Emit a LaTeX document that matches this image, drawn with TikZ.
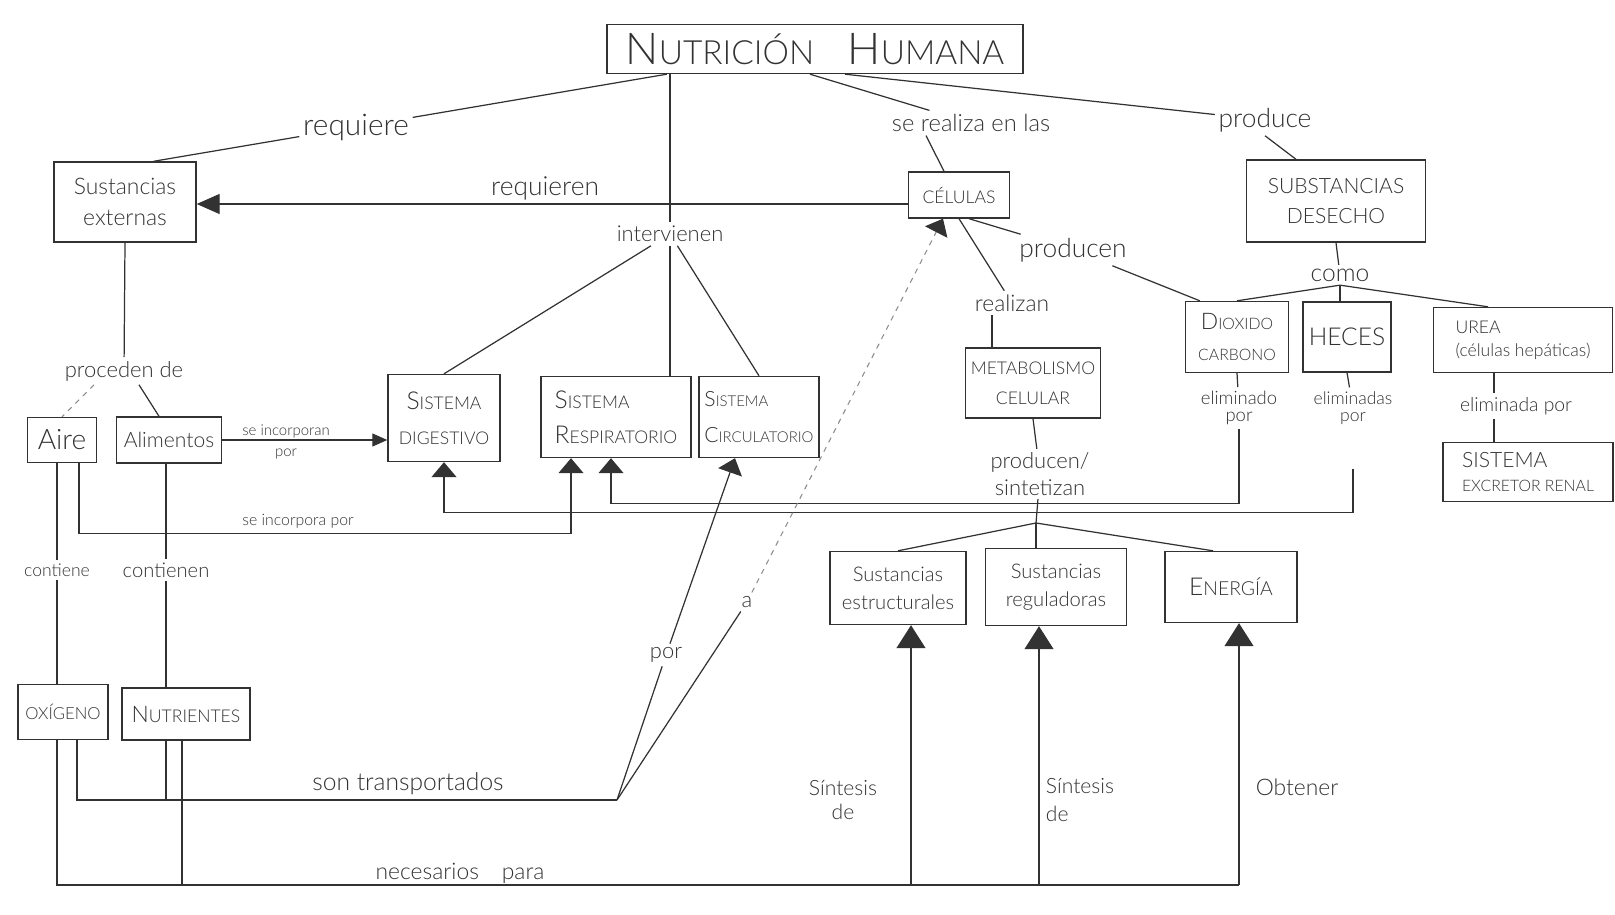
\documentclass[tikz,border=0pt]{standalone}
\usepackage{fontspec}
\setmainfont{Lato}[UprightFont=* Light]
\usepackage{tikz}
\usepackage{xcolor}
\usetikzlibrary{arrows.meta, positioning, calc}
\definecolor{cInk}{RGB}{50,50,50}
\definecolor{cFaint}{RGB}{140,140,140}
\newcommand{\fs}[2]{\fontsize{#1}{#2}\selectfont}
\newcommand{\ini}[2]{{\fontsize{#1}{#1}\selectfont #2}}
\tikzset{
	concept/.style={rectangle, draw=cInk, line width=0.8pt, align=center, inner sep=2pt, text=cInk},
	link/.style   ={align=center, inner sep=2pt, text=cInk},
	conn/.style   ={draw=cInk, line width=0.7pt},
	faint/.style  ={draw=cFaint, line width=0.6pt, dashed},
	% arrow tips as drawn by hand
	tipS/.style={-{Triangle[width=0.5cm, length=0.3cm, color=cInk]}},
	tipL/.style={-{Triangle[width=0.58cm, length=0.46cm]}},
	tipR/.style={-{Triangle[width=0.4cm, length=0.46cm]}},
	tipA/.style={-{Triangle[width=0.26cm, length=0.3cm]}},
}
\begin{document}
\begin{tikzpicture}[x=0.02cm, y=-0.02cm]
	\useasboundingbox (0,0) rectangle (1615,915);
	% concepts
	\node[concept, minimum width=8.32cm, minimum height=0.98cm, font=\fs{19}{20}] (titulo) at (815,49) {\ini{25}{N}UTRICIÓN\quad \ini{25}{H}UMANA};
	\node[concept, minimum width=2.84cm, minimum height=1.6cm, font=\fs{13}{18}] (sustext) at (125,202) {Sustancias\\externas};
	\node[concept, minimum width=2.02cm, minimum height=0.92cm, font=\fs{10}{12}] (celulas) at (959,195) {CÉLULAS};
	\node[concept, minimum width=3.58cm, minimum height=1.64cm, font=\fs{12}{17}] (desecho) at (1336,201) {SUBSTANCIAS\\DESECHO};
	\node[concept, minimum width=2.24cm, minimum height=1.74cm, font=\fs{10}{20}] (digestivo) at (444,418) {\ini{14}{S}ISTEMA\\DIGESTIVO};
	\node[concept, minimum width=3.0cm, minimum height=1.62cm, font=\fs{10}{20}, align=left] (respira) at (616,417) {\ini{14}{S}ISTEMA\\\ini{14}{R}ESPIRATORIO};
	\node[concept, minimum width=2.4cm, minimum height=1.62cm, font=\fs{8.5}{20}, align=left] (circula) at (759,417) {\ini{12}{S}ISTEMA\\\ini{12}{C}IRCULATORIO};
	\node[concept, minimum width=2.7cm, minimum height=1.4cm, font=\fs{10}{17}] (metab) at (1033,383) {METABOLISMO\\CELULAR};
	\node[concept, minimum width=2.06cm, minimum height=1.42cm, font=\fs{9}{18}] (dioxido) at (1237,337) {\ini{13}{D}IOXIDO\\CARBONO};
	\node[concept, minimum width=1.76cm, minimum height=1.4cm, font=\fs{14}{16}] (heces) at (1347,337) {HECES};
	\node[concept, minimum width=3.58cm, minimum height=1.3cm, font=\fs{10}{13}, align=left] (urea) at (1523,340) {UREA\\(células hepáticas)};
	\node[concept, minimum width=3.4cm, minimum height=1.18cm, font=\fs{9}{14}, align=left] (excretor) at (1528,472) {\ini{12}{SISTEMA}\\EXCRETOR RENAL};
	\node[concept, minimum width=1.38cm, minimum height=0.9cm, font=\fs{16}{18}] (aire) at (62,440) {Aire};
	\node[concept, minimum width=2.1cm, minimum height=0.92cm, font=\fs{12}{14}] (alimentos) at (169,440) {Alimentos};
	\node[concept, minimum width=1.8cm, minimum height=1.1cm, font=\fs{9.5}{12}] (oxigeno) at (63,712) {OXÍGENO};
	\node[concept, minimum width=2.56cm, minimum height=1.04cm, font=\fs{10}{12}] (nutrientes) at (186,714) {\ini{13}{N}UTRIENTES};
	\node[concept, minimum width=2.72cm, minimum height=1.46cm, font=\fs{11.5}{16}] (estruct) at (898,588) {Sustancias\\estructurales};
	\node[concept, minimum width=2.82cm, minimum height=1.54cm, font=\fs{11.5}{16}] (regula) at (1056,587) {Sustancias\\reguladoras};
	\node[concept, minimum width=2.64cm, minimum height=1.42cm, font=\fs{11}{13}] (energia) at (1231,587) {\ini{14}{E}NERGÍA};
	% linking words
	\node[link, font=\fs{17}{19}] (requiere) at (356,127) {requiere};
	\node[link, font=\fs{15}{17}] (requieren) at (545,188) {requieren};
	\node[link, font=\fs{12.5}{14}] (intervienen) at (670,234) {intervienen};
	\node[link, font=\fs{13.5}{15}] (serealiza) at (971,123) {se realiza en las};
	\node[link, font=\fs{15}{17}] (produce) at (1265,120) {produce};
	\node[link, font=\fs{15}{17}] (producen) at (1073,250) {producen};
	\node[link, font=\fs{13}{15}] (realizan) at (1012,303) {realizan};
	\node[link, font=\fs{14}{16}] (como) at (1340,275) {como};
	\node[link, font=\fs{10.5}{10}] (elimCO2) at (1239,408) {eliminado\\por};
	\node[link, font=\fs{10}{10}] (elimHeces) at (1353,408) {eliminadas\\por};
	\node[link, font=\fs{11}{13}] (elimUrea) at (1516,406) {eliminada por};
	\node[link, font=\fs{12.5}{14}] (proceden) at (124,371) {proceden de};
	\node[link, font=\fs{8.5}{12.5}] (seincorporan) at (286,442) {se incorporan\\por};
	\node[link, font=\fs{9}{11}] (seincorpora) at (298,521) {se incorpora por};
	\node[link, font=\fs{10}{12}] (contiene) at (57,570) {contiene};
	\node[link, font=\fs{11.5}{13}] (contienen) at (166,570) {contienen};
	\node[link, font=\fs{14}{16}] (transport) at (408,784) {son transportados};
	\node[link, font=\fs{13}{15}] (necesarios) at (460,873) {necesarios\quad para};
	\node[link, font=\fs{12.5}{14}] (por) at (666,655) {por};
	\node[link, font=\fs{12.5}{14}] (a) at (747,602) {a};
	\node[link, font=\fs{12.5}{15}] (produsint) at (1040,474) {producen/\\sintetizan};
	\node[link, font=\fs{12}{14}] (sint1) at (843,800) {Síntesis\\de};
	\node[link, font=\fs{12}{16}, align=left] (sint2) at (1080,800) {Síntesis\\de};
	\node[link, font=\fs{13}{15}] (obtener) at (1297,787) {Obtener};
	\coordinate (ramif) at (1036,523);
	\coordinate (busT) at (617,800);
	\coordinate (busN) at (1239,885);
	% from the title
	\draw[conn] (titulo) -- (requiere);
	\draw[conn] (requiere) -- (sustext.55);
	\draw[conn] (titulo.south -| intervienen.north) -- (intervienen.north);
	\draw[conn] ([xshift=-0.1cm]titulo.south) -- (serealiza);
	\draw[conn] ([xshift=-0.9cm]serealiza.south) -- ([xshift=-0.3cm]celulas.north);
	\draw[conn] ([xshift=0.6cm]titulo.south) -- (produce);
	\draw[conn] (produce.south) -- ([xshift=-0.8cm]desecho.north);
	\draw[conn, tipR] ([yshift=-0.18cm]celulas.west) -- ([yshift=-0.18cm]celulas.west -| sustext.east);
	% systems
	\draw[conn] (intervienen) -- (digestivo.north);
	\draw[conn] (intervienen.south) -- (intervienen.south |- respira.north);
	\draw[conn] (intervienen) -- (circula.north);
	% cells
	\draw[conn] ([xshift=0.2cm]celulas.south) -- (producen);
	\draw[conn] (producen) -- ([xshift=0.3cm]dioxido.north west);
	\draw[conn] (celulas.south) -- (realizan);
	\draw[conn] ([xshift=-0.4cm]realizan.south) -- ([xshift=-0.4cm]realizan.south |- metab.north);
	\draw[conn] (metab.south) -- (produsint);
	\draw[conn] (produsint) -- (ramif);
	\draw[conn] (ramif) -- (estruct.north);
	\draw[conn] (ramif) -- (ramif |- regula.north);
	\draw[conn] (ramif) -- ([xshift=-0.36cm]energia.north);
	% waste
	\draw[conn] (desecho.south) -- (como);
	\draw[conn] (como.south) -- (dioxido.north);
	\draw[conn] (como.south) -- (como.south |- heces.north);
	\draw[conn] (como.south) -- ([xshift=-0.7cm]urea.north);
	\draw[conn] (dioxido.south) -- (elimCO2);
	\draw[conn] (heces.south) -- (elimHeces);
	\draw[conn] ([xshift=-0.44cm]elimUrea.north |- urea.south) -- ([xshift=-0.44cm]elimUrea.north);
	\draw[conn] ([xshift=-0.44cm]elimUrea.south) -- ([xshift=-0.44cm]elimUrea.south |- excretor.north);
	\draw[conn, tipS] (elimCO2.south) |- ([xshift=-0.1cm, yshift=-0.9cm]respira.south) -- ([xshift=-0.1cm]respira.south);
	\draw[conn, tipS] ([yshift=-0.8cm]elimHeces.south) |- ([yshift=-1cm]digestivo.south) -- (digestivo.south);
	% outside substances
	\draw[conn] (sustext.south) -- (proceden);
	\draw[faint] ([xshift=-0.6cm]proceden.south) -- (aire.north);
	\draw[conn] ([xshift=0.3cm]proceden.south) -- ([xshift=-0.2cm]alimentos.north);
	\draw[conn, tipA] (alimentos.east) -- (alimentos.east -| digestivo.west);
	\draw[conn, tipS] ([xshift=0.34cm]aire.south) |- ([xshift=-0.9cm, yshift=-1.5cm]respira.south) -- ([xshift=-0.9cm]respira.south);
	\draw[conn] (contiene.north |- aire.south) -- (contiene.north);
	\draw[conn] (contiene.south) -- (contiene.south |- oxigeno.north);
	\draw[conn] (contienen.north |- alimentos.south) -- (contienen.north);
	\draw[conn] (contienen.south) -- (contienen.south |- nutrientes.north);
	% transport and use
	\draw[conn] ([xshift=0.28cm]oxigeno.south) |- (busT);
	\draw[conn] (contienen.south |- nutrientes.south) -- (contienen.south |- busT);
	\draw[conn] (contiene.south |- oxigeno.south) |- (busN);
	\draw[conn] ([xshift=-0.08cm]nutrientes.south) -- ([xshift=-0.08cm]nutrientes.south |- busN);
	\draw[conn] (busT) -- (por);
	\draw[conn, tipS] (por) -- ([xshift=-0.48cm]circula.south);
	\draw[conn] (busT) -- (a);
	\draw[faint, tipS] (a) -- ([xshift=-0.32cm]celulas.south);
	\draw[conn, tipL] ([xshift=0.26cm]estruct.south |- busN) -- ([xshift=0.26cm]estruct.south);
	\draw[conn, tipL] ([xshift=-0.34cm]regula.south |- busN) -- ([xshift=-0.34cm]regula.south);
	\draw[conn, tipL] (busN) -- (busN |- energia.south);
\end{tikzpicture}
\end{document}
